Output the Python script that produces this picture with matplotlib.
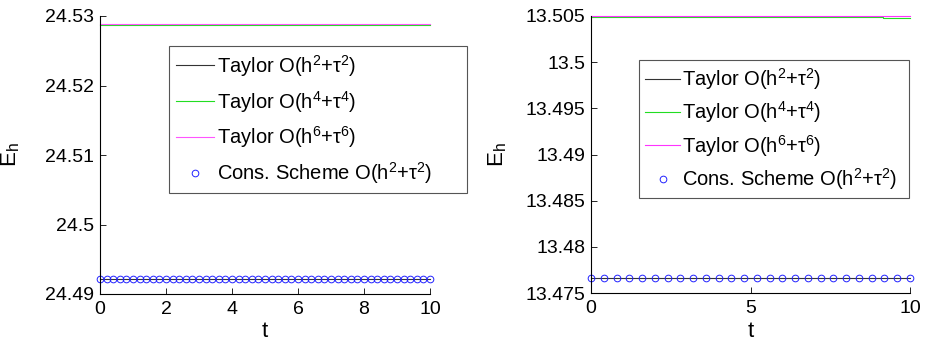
import numpy as np
import matplotlib
matplotlib.use("Agg")
import matplotlib.pyplot as plt

plt.rcParams['font.family'] = ['Liberation Sans', 'DejaVu Sans']
plt.rcParams['mathtext.fontset'] = 'custom'
plt.rcParams['mathtext.rm'] = 'Liberation Sans'
plt.rcParams['mathtext.it'] = 'Liberation Sans'
plt.rcParams['mathtext.default'] = 'regular'

labels = ['Taylor O(h$^2$+τ$^2$)', 'Taylor O(h$^4$+τ$^4$)',
          'Taylor O(h$^6$+τ$^6$)', 'Cons. Scheme O(h$^2$+τ$^2$)']

# Left panel
tL_line = [0, 10]
L_taylor2 = [24.4921, 24.4921]
L_taylor4 = [24.52868, 24.52868]
L_taylor6 = [24.52878, 24.52878]
tL_cons = np.round(np.arange(0, 10.001, 0.2), 1)
L_cons = np.full(tL_cons.size, 24.4921)
L_yticks = [24.49, 24.50, 24.51, 24.52, 24.53]
L_yticklabels = ['24.49', '24.5', '24.51', '24.52', '24.53']
L_xticks = [0, 2, 4, 6, 8, 10]

# Right panel
tR_line = [0, 10]
tR_green = [0, 9.15, 9.15, 10]
R_taylor2 = [13.4766, 13.4766]
R_taylor4 = [13.50492, 13.50492, 13.50478, 13.50478]
R_taylor6 = [13.50498, 13.50498]
tR_cons = np.round(np.arange(0, 10.001, 0.4), 1)
R_cons = np.full(tR_cons.size, 13.4766)
R_yticks = [13.475, 13.48, 13.485, 13.49, 13.495, 13.5, 13.505]
R_yticklabels = ['13.475', '13.48', '13.485', '13.49', '13.495', '13.5', '13.505']
R_xticks = [0, 5, 10]

FS = 14
LFS = 14.5
fig = plt.figure(figsize=(9.31, 3.42), dpi=100)
axL = fig.add_axes([100/931, 1-294/342, 330/931, 278/342])
axR = fig.add_axes([591/931, 1-293/342, 319/931, 277/342])

def style(ax):
    for s in ['top', 'right']:
        ax.spines[s].set_visible(False)
    for s in ['left', 'bottom']:
        ax.spines[s].set_linewidth(0.8)
    ax.tick_params(direction='in', length=4, width=0.6, labelsize=FS)
    ax.tick_params(axis='x', pad=5)
    ax.tick_params(axis='y', pad=4)
    ax.set_xlabel('t', fontsize=FS+2)
    ax.set_ylabel('E$_h$', fontsize=FS+2)

# left
axL.plot(tL_line, L_taylor2, color='#333333', lw=0.8, label=labels[0])
axL.plot(tL_line, L_taylor4, color='#22dd22', lw=0.8, label=labels[1])
axL.plot(tL_line, L_taylor6, color='#ff55ff', lw=0.8, label=labels[2])
axL.plot(tL_cons, L_cons, ls='none', marker='o', ms=4.8, mfc='none', mec='#2222ff', mew=0.7, label=labels[3])
axL.set_xlim(0, 10)
axL.set_ylim(24.49, 24.53)
axL.set_yticks(L_yticks)
axL.set_yticklabels(L_yticklabels)
axL.set_xticks(L_xticks)
style(axL)
axL.yaxis.set_label_coords((22-100)/330, 0.5)
axL.xaxis.set_label_coords(0.5, -(321-294)/278)
legL = axL.legend(loc='upper left', bbox_to_anchor=(169/931, 1-193/342, 298/931, 147/342),
                  bbox_transform=fig.transFigure, mode='expand',
                  fontsize=LFS, frameon=True, fancybox=False, framealpha=1, edgecolor='#555555',
                  handlelength=1.9, handletextpad=0.15, labelspacing=0.5, borderpad=0.33, borderaxespad=0)
legL.get_frame().set_linewidth(0.8)

# right
axR.plot(tR_line, R_taylor2, color='#333333', lw=0.8, label=labels[0])
axR.plot(tR_green, R_taylor4, color='#22dd22', lw=0.8, label=labels[1])
axR.plot(tR_line, R_taylor6, color='#ff33ff', lw=0.8, label=labels[2])
axR.plot(tR_cons, R_cons, ls='none', marker='o', ms=4.8, mfc='none', mec='#2222ff', mew=0.7, label=labels[3])
axR.set_xlim(0, 10)
axR.set_ylim(13.475, 13.505)
axR.set_yticks(R_yticks)
axR.set_yticklabels(R_yticklabels)
axR.set_xticks(R_xticks)
style(axR)
axR.yaxis.set_label_coords((509-591)/319, 0.5)
axR.xaxis.set_label_coords(0.5, -(321-293)/277)
legR = axR.legend(loc='upper left', bbox_to_anchor=(639/931, 1-194/342, 270/931, 134/342),
                  bbox_transform=fig.transFigure, mode='expand',
                  fontsize=LFS, frameon=True, fancybox=False, framealpha=1, edgecolor='#555555',
                  handlelength=1.7, handletextpad=0.1, labelspacing=0.36, borderpad=0.32, borderaxespad=0)
legR.get_frame().set_linewidth(0.8)

for ax in (axL, axR):
    for line in ax.get_lines():
        line.set_clip_on(False)

fig.savefig('out.png', dpi=100)
